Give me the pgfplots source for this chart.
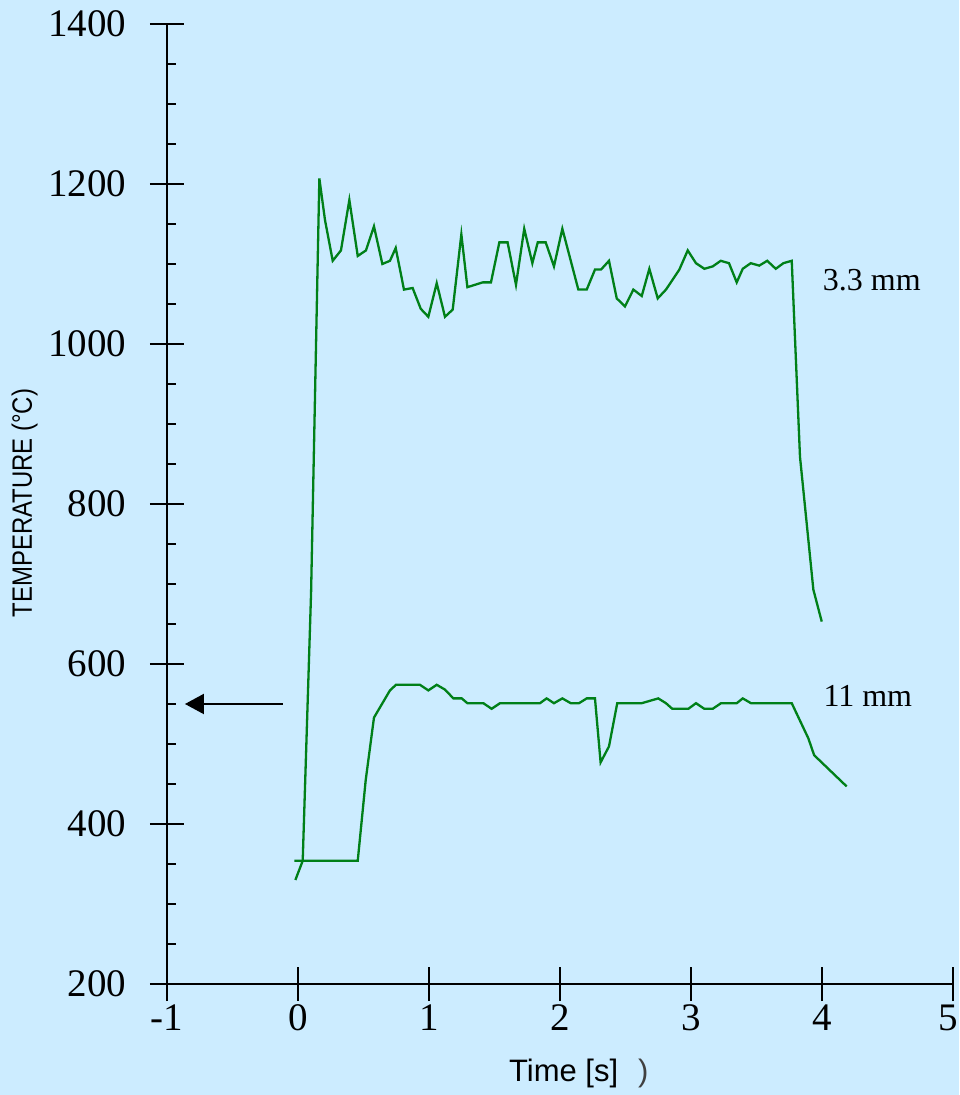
\documentclass[border=0pt]{standalone}
\usepackage{graphicx}
\usepackage{pgfplots}
\pgfplotsset{compat=1.18}
\usepackage{fontspec}
\setmainfont{Liberation Serif}
\newfontfamily\sansf{Liberation Sans}
\usetikzlibrary{arrows.meta}
\definecolor{bgc}{RGB}{204,236,255}
\definecolor{lg}{RGB}{0,128,24}

\pgfplotstableread{
x y
-0.020 330
0.036 354
0.100 690
0.163 1207
0.206 1155
0.265 1104
0.328 1117
0.392 1180
0.456 1110
0.519 1117
0.580 1147
0.644 1100
0.702 1104
0.746 1120
0.809 1068
0.875 1070
0.937 1044
0.995 1034
1.059 1076
1.122 1034
1.181 1043
1.247 1137
1.293 1071
1.351 1074
1.410 1077
1.473 1077
1.537 1127
1.600 1127
1.664 1074
1.727 1144
1.789 1101
1.830 1127
1.891 1127
1.954 1097
2.018 1144
2.140 1068
2.204 1068
2.267 1093
2.313 1093
2.374 1104
2.433 1057
2.496 1047
2.560 1068
2.624 1060
2.682 1094
2.746 1057
2.809 1068
2.911 1093
2.975 1117
3.038 1101
3.102 1094
3.166 1097
3.227 1104
3.290 1101
3.349 1077
3.395 1094
3.456 1101
3.521 1098
3.582 1104
3.647 1094
3.705 1101
3.769 1104
3.832 859
3.934 693
3.998 653
}\thin

\pgfplotstableread{
x y
-0.028 354
0.456 354
0.517 455
0.580 533
0.702 567
0.748 574
0.931 574
0.995 567
1.059 574
1.122 568
1.186 557
1.250 557
1.293 551
1.415 551
1.478 544
1.542 551
1.847 551
1.898 557
1.954 551
2.018 557
2.082 551
2.145 551
2.204 557
2.267 557
2.310 477
2.374 497
2.437 551
2.624 551
2.750 557
2.809 551
2.857 544
2.980 544
3.038 551
3.102 544
3.166 544
3.229 551
3.349 551
3.395 557
3.458 551
3.769 551
3.896 507
3.940 486
4.188 447
}\thick

\begin{document}
\begin{tikzpicture}
\useasboundingbox (-167pt,-111pt) rectangle (792pt,984pt);
\fill[bgc] (-167pt,-111pt) rectangle (792pt,984pt);
\begin{axis}[
  scale only axis, width=786pt, height=960pt,
  xmin=-1, xmax=5, ymin=200, ymax=1400,
  axis x line*=bottom, axis y line*=left,
  axis line style={line width=2pt, black},
  xtick={-1,0,...,5}, ytick={200,400,...,1400},
  xticklabels={-1,0,1,2,3,4,\hspace*{-10pt}5},
  minor y tick num=3,
  tick align=center,
  major tick length=34pt,
  minor tick length=9pt,
  every tick/.style={black, line width=2pt},
  every minor y tick/.append style={xshift=4.5pt},
  /pgf/number format/assume math mode=true,
  /pgf/number format/1000 sep={},
  ticklabel style={font=\fontsize{39}{39}\selectfont},
  yticklabel style={xshift=-20pt},
  clip=false,
  xlabel={\sansf\fontsize{31}{31}\selectfont Time [s]\hspace{20pt}{\color{black!75})}},
  xlabel style={at={(axis description cs:0.524,-0.102)}, anchor=base},
  ylabel={\scalebox{0.855}[1]{\sansf\fontsize{28}{28}\selectfont TEMPERATURE (°C)}},
  ylabel style={at={(axis description cs:-0.172,0.501)}, anchor=base, rotate=0},
]
\addplot[lg, line width=2.3pt, line join=miter] table[x=x,y=y] {\thin};
\addplot[lg, line width=2.3pt, line join=miter] table[x=x,y=y] {\thick};
\node[font=\fontsize{32}{32}\selectfont] at (axis cs:4.38,1080) {3.3 mm};
\node[font=\fontsize{32}{32}\selectfont] at (axis cs:4.35,560) {11 mm};
\draw[line width=2pt, -{Triangle[length=19pt,width=20pt]}] (axis cs:-0.115,550) -- (axis cs:-0.863,550);
\end{axis}
\end{tikzpicture}
\end{document}
